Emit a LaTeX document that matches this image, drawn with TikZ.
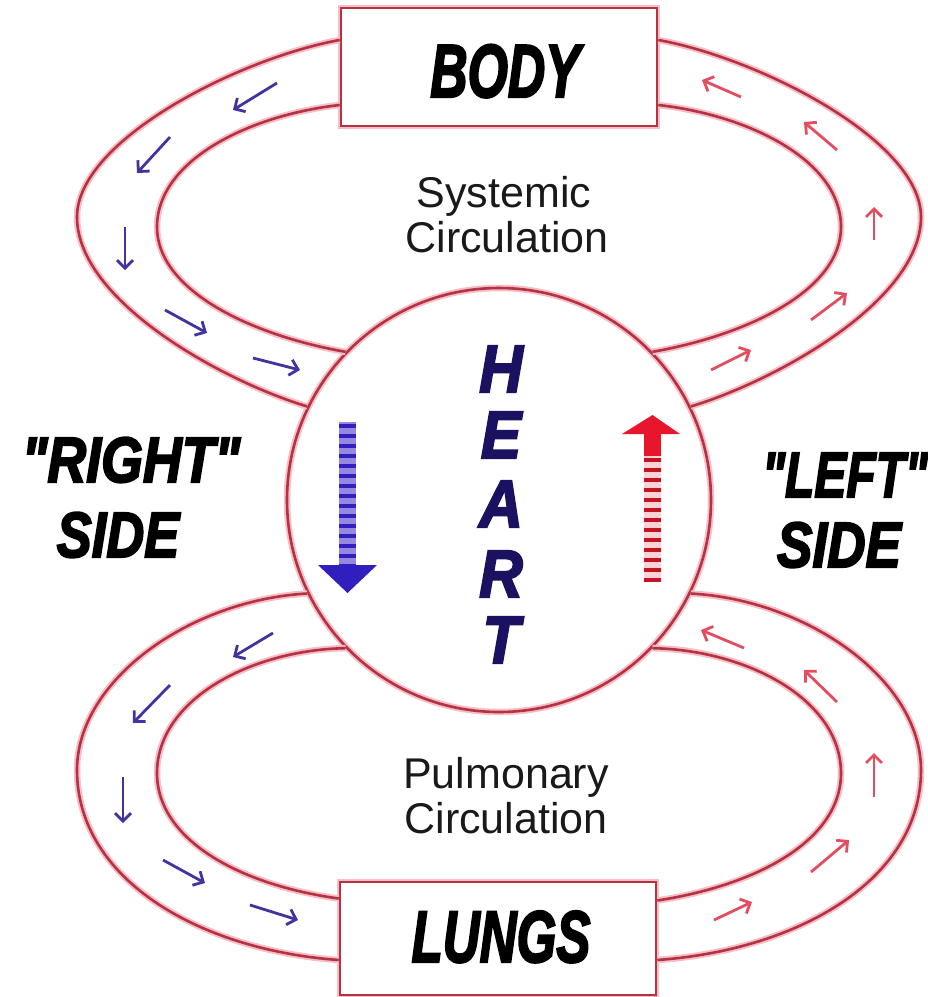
\documentclass[tikz,border=0pt]{standalone}
\usepackage{fontspec}
\setmainfont{Liberation Sans}
\newfontfamily\heavy{Liberation Sans Bold Italic}[FakeBold=3.2]
\usetikzlibrary{arrows.meta,calc}
\definecolor{tubedark}{RGB}{180,50,66}
\definecolor{tubehalo}{RGB}{246,190,198}
\definecolor{vein}{RGB}{66,52,158}
\definecolor{artery}{RGB}{226,78,96}
\definecolor{navy}{RGB}{26,18,96}
\definecolor{bigblue}{RGB}{48,30,190}
\definecolor{bigbluelt}{RGB}{150,135,225}
\definecolor{bigred}{RGB}{232,22,44}
\definecolor{bigredlt}{RGB}{252,210,215}
\definecolor{txt}{RGB}{25,25,25}
\newcommand{\hv}[3]{\scalebox{#1}[1]{\fontsize{#2}{#2}\selectfont\heavy #3}}
\begin{document}
\begin{tikzpicture}[x=1pt,y=-1pt,
  tube/.style={draw=tubedark, line width=2.6pt, preaction={draw=tubehalo, line width=6.5pt}},
  organ/.style={tube, fill=white, minimum width=316pt, inner sep=0pt},
  flowv/.style={draw=vein, line width=2.8pt, -{Straight Barb[length=8pt,width=16pt]}},
  flowa/.style={draw=artery, line width=2.8pt, -{Straight Barb[length=8pt,width=16pt]}},
  circ/.style={anchor=base, text=txt, font=\fontsize{43}{45}\selectfont},
  label/.style={anchor=base, text=black},
  heartletter/.style={anchor=base, text=navy}]
\useasboundingbox (0,0) rectangle (928,997);

% organs
\node[organ, minimum height=118pt] (body) at (499,67) {};
\node[organ, minimum height=113pt] (lungs) at (498,938.5) {};
\node[circle, tube, minimum size=424pt, inner sep=0pt] (heart) at (499,500) {};

% systemic loop
\draw[tube] ($(body.west)+(0,-27)$) .. controls (240,58) and (77,140) .. (77,217)
  .. controls (77,300) and (220,380) .. (heart.154);
\draw[tube] ($(body.west)+(0,38)$) .. controls (250,115) and (157,160) .. (157,227)
  .. controls (157,290) and (250,335) .. (heart.136);
\draw[tube] ($(body.east)+(0,-27)$) .. controls (758,58) and (921,140) .. (921,217)
  .. controls (921,300) and (778,380) .. (heart.26);
\draw[tube] ($(body.east)+(0,38)$) .. controls (748,115) and (841,160) .. (841,227)
  .. controls (841,290) and (748,335) .. (heart.44);

% pulmonary loop
\draw[tube] (heart.206) .. controls (190,600) and (77,680) .. (77,770)
  .. controls (77,880) and (200,950) .. ($(lungs.west)+(0,21.5)$);
\draw[tube] (heart.224) .. controls (250,650) and (157,700) .. (157,773)
  .. controls (157,840) and (240,885) .. ($(lungs.west)+(0,-40)$);
\draw[tube] (heart.334) .. controls (808,600) and (921,680) .. (921,770)
  .. controls (921,880) and (798,950) .. ($(lungs.east)+(0,21.5)$);
\draw[tube] (heart.316) .. controls (748,650) and (841,700) .. (841,773)
  .. controls (841,840) and (758,885) .. ($(lungs.east)+(0,-38)$);

% small flow arrows: upper left (blue)
\draw[flowv] (277,83) -- (233,110);
\draw[flowv] (170,137) -- (137,173);
\draw[flowv] (125,227) -- (125,270);
\draw[flowv] (165,310) -- (207,333);
\draw[flowv] (253,358) -- (300,370);
% upper right (red)
\draw[flowa] (711,370) -- (751,350);
\draw[flowa] (811,320) -- (847,293);
\draw[flowa] (874,240) -- (874,207);
\draw[flowa] (837,150) -- (804,122);
\draw[flowa] (741,97) -- (702,80);
% lower left (blue)
\draw[flowv] (273,633) -- (233,657);
\draw[flowv] (170,685) -- (133,723);
\draw[flowv] (123,777) -- (123,823);
\draw[flowv] (163,860) -- (205,883);
\draw[flowv] (250,905) -- (298,920);
% lower right (red)
\draw[flowa] (714,920) -- (752,902);
\draw[flowa] (811,872) -- (849,840);
\draw[flowa] (874,797) -- (874,753);
\draw[flowa] (837,702) -- (804,670);
\draw[flowa] (744,648) -- (701,630);

% big arrows in the heart
\fill[bigbluelt] (339,422) rectangle (356,568);
\draw[bigblue, line width=17pt, dash pattern=on 4pt off 6pt] (347.5,424) -- (347.5,568);
\fill[bigblue] (318,565) -- (377,565) -- (347.5,593) -- cycle;
\fill[bigredlt] (644,455) rectangle (661,582);
\draw[bigred!85!black, line width=17pt, dash pattern=on 4pt off 6pt] (652.5,458) -- (652.5,582);
\fill[bigred] (644,430) rectangle (661,456);
\fill[bigred] (622,434) -- (680,434) -- (652.5,415) -- cycle;

% labels
\node[label] (bodytxt) at (505,97) {\hv{0.69}{75}{BODY}};
\node[label] (lungstxt) at (501,962) {\hv{0.70}{73}{LUNGS}};
\node[circ] (sys1) at (504,207) {Systemic};
\node[circ] (sys2) at (507,252) {Circulation};
\node[circ] (pul1) at (506,788) {Pulmonary};
\node[circ] (pul2) at (506,833) {Circulation};
\node[label] (right1) at (131,482) {\hv{0.84}{64}{"RIGHT"}};
\node[label] (right2) at (118,557) {\hv{0.82}{64}{SIDE}};
\node[label] (left1) at (845,497) {\hv{0.75}{64}{"LEFT"}};
\node[label] (left2) at (839,567) {\hv{0.83}{64}{SIDE}};
\node[heartletter] (hH) at (501,392) {\hv{0.9}{67}{H}};
\node[heartletter] (hE) at (501,458) {\hv{0.9}{67}{E}};
\node[heartletter] (hA) at (501,527) {\hv{0.9}{67}{A}};
\node[heartletter] (hR) at (501,597) {\hv{0.9}{67}{R}};
\node[heartletter] (hT) at (501,663) {\hv{0.9}{67}{T}};
\end{tikzpicture}
\end{document}
